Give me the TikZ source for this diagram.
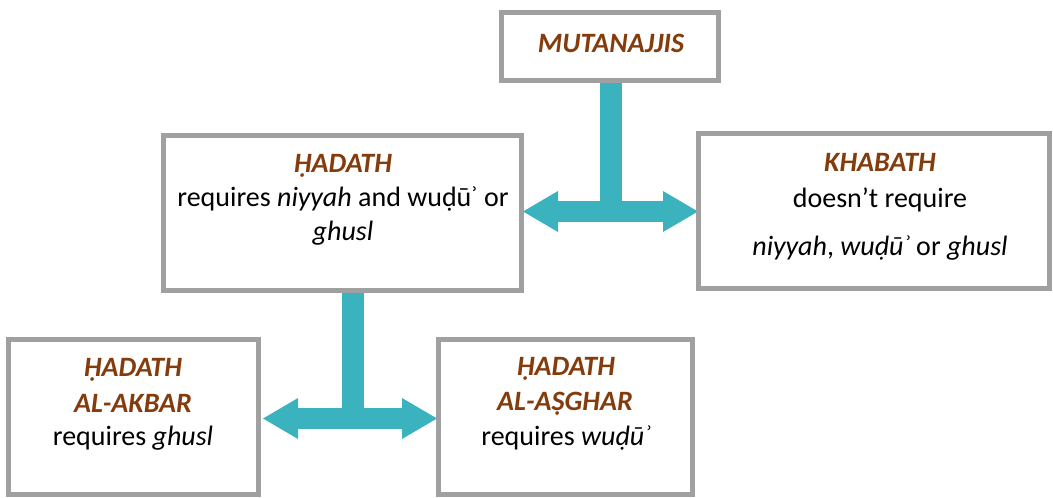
\documentclass[tikz,border=0pt]{standalone}
\usepackage{fontspec}
\setmainfont{Carlito}
\usetikzlibrary{arrows.meta,backgrounds}
\definecolor{frame}{HTML}{A0A0A0}
\definecolor{flow}{HTML}{3BB3BF}
\definecolor{term}{HTML}{843C0C}
\tikzset{
  box/.style={draw=frame, line width=5pt, fill=white, outer sep=0pt, inner sep=0pt},
  title/.style={anchor=base, inner sep=0pt, text=term,
    font=\fontsize{28}{32}\selectfont\bfseries\itshape},
  body/.style={anchor=base, inner sep=0pt, font=\fontsize{28}{32}\selectfont},
  stem/.style={draw=flow, line width=22pt},
  fork/.style={draw=flow, line width=21pt,
    {Triangle[length=35pt,width=41pt,line width=0pt]}-{Triangle[length=35pt,width=41pt,line width=0pt]}},
}
\begin{document}
\begin{tikzpicture}[x=1pt,y=-1pt]
\useasboundingbox (0,0) rectangle (1053,498);

% boxes
\node[box, minimum width=217pt, minimum height=68pt]  (M) at (610,46.5)  {};
\node[box, minimum width=358pt, minimum height=155pt] (H) at (342.5,213) {};
\node[box, minimum width=351pt, minimum height=155pt] (K) at (874,211)   {};
\node[box, minimum width=250pt, minimum height=155pt] (A) at (133.5,417) {};
\node[box, minimum width=254pt, minimum height=155pt] (S) at (565.5,417) {};

% junction points of the two forks
\coordinate (j1) at (611,211.5);
\coordinate (j2) at (352.5,418.5);

\begin{pgfonlayer}{background}
  \draw[stem] ([xshift=1pt]M.south) -- (j1);
  \draw[fork] ([xshift=1.5pt]H.east |- j1) -- ([xshift=-0.5pt]K.west |- j1);
  \draw[stem] (H.south -| j2) -- (j2);
  \draw[fork] ([xshift=4.5pt]A.east |- j2) -- ([xshift=-1.5pt]S.west |- j2);
\end{pgfonlayer}

% texts
\node[title] (m1) at (611,52) {MUTANAJJIS};

\node[title] (h1) at (343,172) {Ḥ{}ADATH};
\node[body]  (h2) at (343,206) {requires \textit{niyyah} and wuḍūʾ or};
\node[body]  (h3) at (343,240) {\textit{ghusl}};

\node[title] (k1) at (880,171) {KHABATH};
\node[body]  (k2) at (880,207) {doesn’t require};
\node[body]  (k3) at (880,255) {\textit{niyyah}, \textit{wuḍūʾ} or \textit{ghusl}};

\node[title] (a1) at (133,376) {ḤADATH};
\node[title] (a2) at (133,412) {AL-AKBAR};
\node[body]  (a3) at (133,445) {requires \textit{ghusl}};

\node[title] (s1) at (566,375) {ḤADATH};
\node[title] (s2) at (565,410) {AL-AṢGHAR};
\node[body]  (s3) at (566,445) {requires \textit{wuḍūʾ}};
\end{tikzpicture}
\end{document}
